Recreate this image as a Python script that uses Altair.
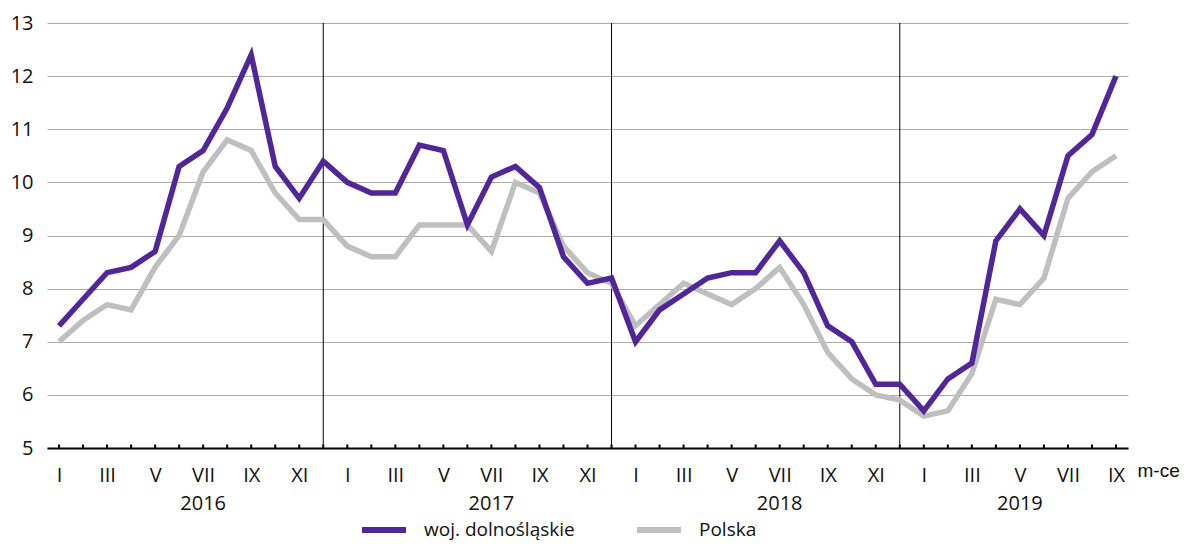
import altair as alt
import pandas as pd

# Data (months Jan 2016 .. Sep 2019)
years = [2016, 2017, 2018, 2019]
roman = ["I", "II", "III", "IV", "V", "VI", "VII", "VIII", "IX", "X", "XI", "XII"]

dolnoslaskie = [
    7.3, 7.8, 8.3, 8.4, 8.7, 10.3, 10.6, 11.4, 12.4, 10.3, 9.7, 10.4,
    10.0, 9.8, 9.8, 10.7, 10.6, 9.2, 10.1, 10.3, 9.9, 8.6, 8.1, 8.2,
    7.0, 7.6, 7.9, 8.2, 8.3, 8.3, 8.9, 8.3, 7.3, 7.0, 6.2, 6.2,
    5.7, 6.3, 6.6, 8.9, 9.5, 9.0, 10.5, 10.9, 12.0,
]
polska = [
    7.0, 7.4, 7.7, 7.6, 8.4, 9.0, 10.2, 10.8, 10.6, 9.8, 9.3, 9.3,
    8.8, 8.6, 8.6, 9.2, 9.2, 9.2, 8.7, 10.0, 9.8, 8.8, 8.3, 8.1,
    7.3, 7.7, 8.1, 7.9, 7.7, 8.0, 8.4, 7.7, 6.8, 6.3, 6.0, 5.9,
    5.6, 5.7, 6.4, 7.8, 7.7, 8.2, 9.7, 10.2, 10.5,
]
series_names = ["woj. dolnośląskie", "Polska"]
series_colors = ["#512698", "#bfbfbf"]

year_label_pos = [6, 18, 30, 40]      # month index under which the year label sits
separator_pos = [11, 23, 35]          # month index of year separators

n = len(dolnoslaskie)
idx = list(range(n))

df = pd.DataFrame({
    "i": idx * 2,
    "value": dolnoslaskie + polska,
    "series": [series_names[0]] * n + [series_names[1]] * n,
})
ticks_df = pd.DataFrame({"i": idx})
years_df = pd.DataFrame({"i": year_label_pos, "year": [str(y) for y in years]})
sep_df = pd.DataFrame({"i": separator_pos, "lo": [5] * 3, "hi": [13] * 3})

W, H = 1081, 425
FONT = "Open Sans"

xscale = alt.Scale(domain=[-0.5, n - 0.5], nice=False, zero=False)
yscale = alt.Scale(domain=[5, 13], nice=False, zero=False)

labels_js = "[" + ",".join("'%s'" % r for r in roman) + "]"

x_axis = alt.Axis(
    values=list(range(0, n, 2)),
    labelExpr=labels_js + "[datum.value % 12]",
    grid=False, ticks=False, domain=True, domainColor="#000000", domainWidth=2,
    labelFont=FONT, labelFontSize=20, labelColor="#111111", labelPadding=17,
    title="m-ce", titleFont="Liberation Sans", titleFontSize=19,
    titleFontWeight="normal", titleColor="#111111",
    titleX=W + 9, titleY=22, titleAlign="left", titleBaseline="middle",
    titleAnchor="start", titleAngle=0,
)
y_axis = alt.Axis(
    values=[5, 6, 7, 8, 9, 10, 11, 12, 13],
    grid=True, gridColor="#ababab", gridWidth=1,
    domain=False, ticks=False,
    labelFont=FONT, labelFontSize=20, labelColor="#111111", labelPadding=14,
    title=None,
)

color = alt.Color(
    "series:N",
    scale=alt.Scale(domain=series_names, range=series_colors),
    legend=alt.Legend(
        title=None, orient="none", legendX=312, legendY=482,
        direction="horizontal", symbolType="stroke", symbolStrokeWidth=6,
        symbolSize=1936, labelFont=FONT, labelFontSize=19, labelColor="#111111",
        labelOffset=15, columnPadding=50, padding=0, labelLimit=400,
    ),
)

base = alt.Chart(df)

grid_layer = base.mark_line(opacity=0).encode(
    x=alt.X("i:Q", scale=xscale, axis=x_axis),
    y=alt.Y("value:Q", scale=yscale, axis=y_axis),
)

sep = alt.Chart(sep_df).mark_rule(color="#000000", strokeWidth=1).encode(
    x=alt.X("i:Q", scale=xscale), y=alt.Y("lo:Q", scale=yscale), y2="hi:Q"
)

gray = base.transform_filter(alt.datum.series == series_names[1]).mark_line(
    strokeWidth=5.5, strokeJoin="miter", strokeCap="butt"
).encode(
    x=alt.X("i:Q", scale=xscale), y=alt.Y("value:Q", scale=yscale), color=color
)
purple = base.transform_filter(alt.datum.series == series_names[0]).mark_line(
    strokeWidth=5.5, strokeJoin="miter", strokeCap="butt"
).encode(
    x=alt.X("i:Q", scale=xscale), y=alt.Y("value:Q", scale=yscale), color=color
)

ticks = alt.Chart(ticks_df).mark_rule(color="#000000", strokeWidth=2).encode(
    x=alt.X("i:Q", scale=xscale), y=alt.value(H - 3.5), y2=alt.value(H)
)

year_text = alt.Chart(years_df).mark_text(
    font=FONT, fontSize=20, color="#111111", baseline="middle", align="center"
).encode(
    x=alt.X("i:Q", scale=xscale), y=alt.value(H + 56), text="year:N"
)

chart = alt.layer(grid_layer, sep, gray, purple, ticks, year_text).properties(
    width=W, height=H,
    autosize=alt.AutoSizeParams(type="none"),
    padding={"left": 39, "top": 15, "right": 56, "bottom": 93},
).configure(
    background="#ffffff", font=FONT
).configure_view(stroke=None).configure_axis(labelFont=FONT)

chart.save("out.html", embed_options={"renderer": "svg", "actions": False})
